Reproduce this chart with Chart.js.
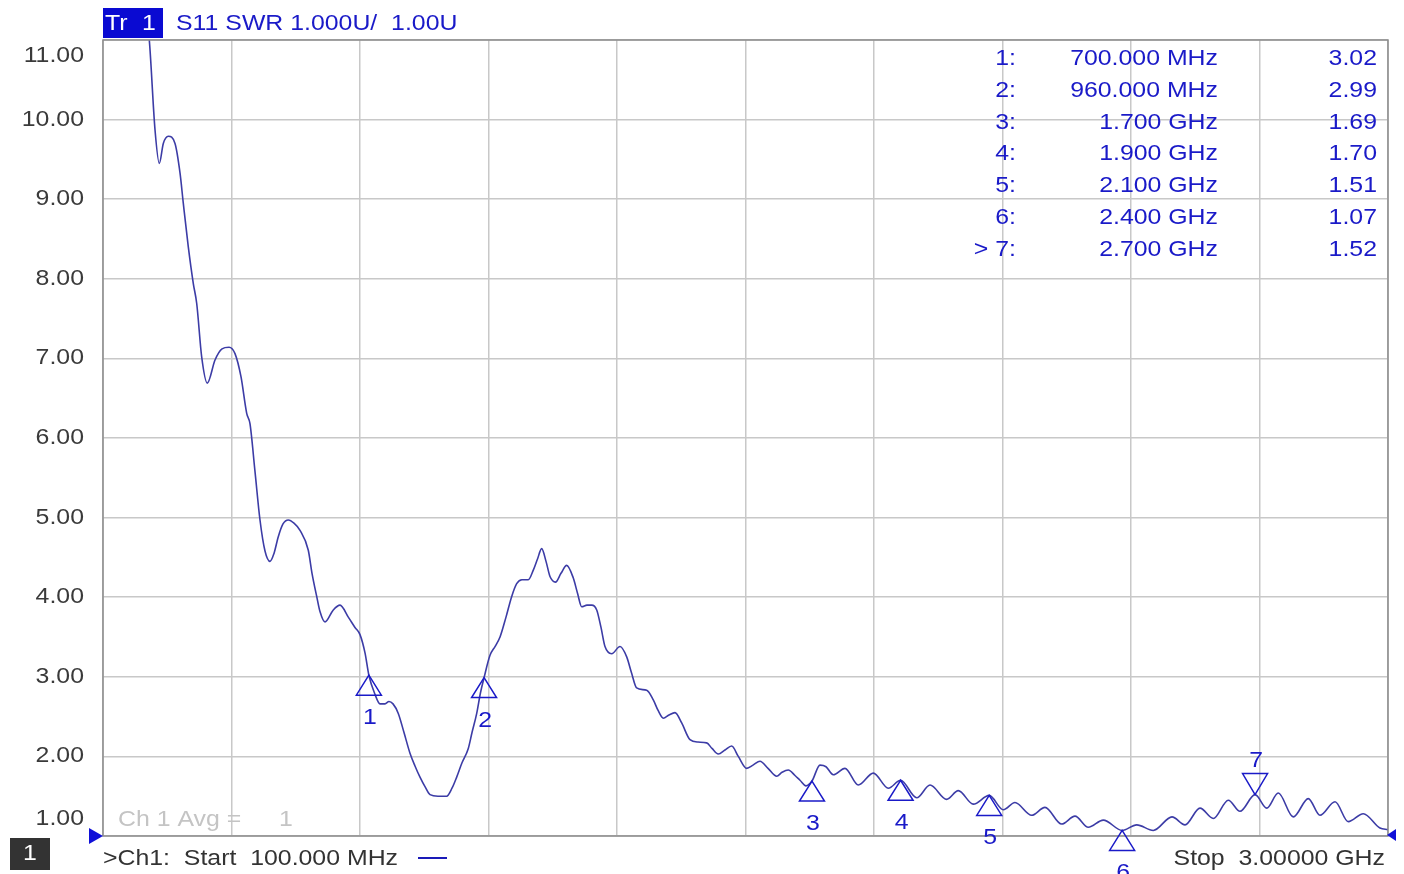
<!DOCTYPE html>
<html lang="en">
<head>
    <meta charset="UTF-8">
    <title>S11 SWR</title>
    <script src="https://cdn.jsdelivr.net/npm/chart.js"></script>
    <style>
        body { margin: 0; padding: 0; background: #fff; }
        canvas { display: block; }
    </style>
</head>
<body>
    <canvas id="swrChart" width="1404" height="874"></canvas>

    <script>
        const freqMHz = [100, 204.5, 217.4, 227.1, 236.1, 247.4, 262.5, 273.8, 281.2, 292.5,
            303.8, 311.5, 322.7, 335.4, 352.8, 368.6, 384.4, 397.9, 411.4, 424.3,
            431.7, 443, 454.3, 465.6, 476.9, 485.9, 495.6, 506.2, 518.2, 531,
            544.6, 563.3, 571.7, 582.3, 589.7, 601, 619.7, 634.9, 653.6, 668.7,
            680, 691.3, 700, 713.8, 725.1, 736.4, 745.4, 754.5, 766.4, 779.3,
            792.8, 804.1, 815.4, 826.7, 838, 856, 875.7, 887.6, 898.2, 910.2,
            924.4, 932.8, 943.4, 951.9, 960, 973.4, 984.7, 996, 1009.5, 1022.4,
            1033.6, 1045.6, 1059.8, 1071.1, 1080.6, 1090, 1099.8, 1108.8, 1121.2, 1133.6,
            1146.5, 1161.4, 1170.9, 1180.3, 1192.3, 1202.9, 1214.2, 1223.9, 1232.9, 1248,
            1266.8, 1281.9, 1292.7, 1304.4, 1327, 1341.9, 1352.5, 1364.5, 1377.3, 1390.9,
            1406, 1424.7, 1442.8, 1462.4, 1474.4, 1488.6, 1503.7, 1518.8, 1533.7, 1552.7,
            1566.9, 1582.7, 1600.8, 1620.4, 1632.4, 1646.6, 1661.7, 1673, 1686.5, 1700,
            1718.1, 1731.7, 1748.1, 1774.5, 1804.6, 1838.4, 1872.3, 1900, 1936.4, 1966.4,
            2004, 2030.2, 2064.1, 2100, 2131.8, 2158.2, 2195.9, 2225.9, 2263.6, 2293.6,
            2323.6, 2357.5, 2400, 2432.9, 2470.3, 2512.5, 2541.9, 2575.7, 2605.7, 2639.6,
            2666, 2700, 2726.3, 2752.4, 2786.3, 2820.1, 2846.5, 2880.4, 2910.4, 2944.2,
            2981.9, 3000];

        const swr = [16, 11.0, 9.87, 9.45, 9.70, 9.79, 9.70, 9.33, 8.95, 8.40,
            7.94, 7.69, 7.02, 6.69, 6.98, 7.12, 7.14, 7.06, 6.77, 6.31,
            6.18, 5.58, 4.97, 4.58, 4.45, 4.55, 4.76, 4.92, 4.97, 4.93,
            4.84, 4.59, 4.30, 4.01, 3.82, 3.69, 3.84, 3.90, 3.75, 3.62,
            3.53, 3.30, 3.02, 2.78, 2.66, 2.66, 2.69, 2.66, 2.54, 2.30,
            2.04, 1.88, 1.74, 1.62, 1.52, 1.50, 1.50, 1.60, 1.74, 1.92,
            2.10, 2.30, 2.54, 2.80, 2.99, 3.27, 3.38, 3.50, 3.75, 4.01,
            4.17, 4.22, 4.22, 4.34, 4.48, 4.61, 4.45, 4.26, 4.19, 4.30,
            4.40, 4.24, 4.05, 3.88, 3.90, 3.90, 3.84, 3.62, 3.38, 3.29,
            3.38, 3.25, 3.05, 2.86, 2.83, 2.71, 2.58, 2.48, 2.52, 2.55,
            2.42, 2.21, 2.18, 2.17, 2.10, 2.03, 2.08, 2.13, 2.00, 1.85,
            1.89, 1.94, 1.85, 1.75, 1.80, 1.83, 1.76, 1.70, 1.63, 1.69,
            1.89, 1.87, 1.77, 1.85, 1.64, 1.79, 1.60, 1.70, 1.48, 1.64,
            1.46, 1.57, 1.40, 1.51, 1.33, 1.42, 1.26, 1.36, 1.15, 1.25,
            1.11, 1.20, 1.07, 1.14, 1.07, 1.24, 1.14, 1.35, 1.22, 1.45,
            1.31, 1.52, 1.35, 1.54, 1.24, 1.47, 1.26, 1.43, 1.18, 1.28,
            1.10, 1.08];

        // Markers
        const markerFreq = [700, 960, 1700, 1900, 2100, 2400, 2700];
        const markerSwr = [3.02, 2.99, 1.69, 1.70, 1.51, 1.07, 1.52];
        const activeMarker = 7;

        // Axis ticks
        const xTicks = [100, 390, 680, 970, 1260, 1550, 1840, 2130, 2420, 2710, 3000];
        const yTicks = [1, 2, 3, 4, 5, 6, 7, 8, 9, 10, 11];

        const FONT = '22px "Liberation Sans", Arial, sans-serif';
        const BLUE = '#1a1ac8';
        const STRETCH = 1.13; // analyser font is a bit wider than Arial

        // text with the analyser's horizontal stretch
        function text(ctx, str, x, y, align) {
            ctx.save();
            ctx.translate(x, y);
            ctx.scale(STRETCH, 1);
            ctx.textAlign = align || 'left';
            ctx.textBaseline = 'middle';
            ctx.fillText(str, 0, 0);
            ctx.restore();
        }

        function freqText(f) {
            return f < 1000 ? f.toFixed(3) + ' MHz' : (f / 1000).toFixed(3) + ' GHz';
        }

        const vnaDecor = {
            id: 'vnaDecor',
            beforeDraw(chart) {
                const ctx = chart.ctx;
                ctx.save();
                ctx.fillStyle = '#fff';
                ctx.fillRect(0, 0, chart.width, chart.height);
                ctx.restore();
            },
            afterDraw(chart) {
                const ctx = chart.ctx;
                const a = chart.chartArea;
                const xs = chart.scales.x;
                const ys = chart.scales.y;
                ctx.save();
                ctx.font = FONT;

                // plot frame
                ctx.strokeStyle = '#8c8c8c';
                ctx.lineWidth = 1.5;
                ctx.strokeRect(a.left, a.top, a.right - a.left, a.bottom - a.top);

                // y labels
                ctx.fillStyle = '#3a3a3a';
                yTicks.forEach(v => {
                    let y = ys.getPixelForValue(v);
                    y = Math.min(Math.max(y, a.top + 16), a.bottom - 17);
                    text(ctx, v.toFixed(2), 84, y, 'right');
                });

                // header
                ctx.fillStyle = '#0a0ad2';
                ctx.fillRect(103, 8, 60, 30);
                ctx.fillStyle = '#fff';
                text(ctx, 'Tr', 105, 24);
                text(ctx, '1', 142, 24);
                ctx.fillStyle = BLUE;
                text(ctx, 'S11 SWR 1.000U/  1.00U', 176, 24);

                // averaging note
                ctx.fillStyle = '#c4c4c4';
                text(ctx, 'Ch 1 Avg =', 118, 820);
                text(ctx, '1', 279, 820);

                // marker table
                ctx.fillStyle = BLUE;
                markerFreq.forEach((f, i) => {
                    const y = 59 + i * 31.8;
                    const n = i + 1;
                    text(ctx, (n === activeMarker ? '> ' : '') + n + ':', 1016, y, 'right');
                    text(ctx, freqText(f), 1218, y, 'right');
                    text(ctx, markerSwr[i].toFixed(2), 1377, y, 'right');
                });

                // marker triangles
                ctx.strokeStyle = BLUE;
                ctx.lineWidth = 1.5;
                markerFreq.forEach((f, i) => {
                    const x = xs.getPixelForValue(f);
                    const y = ys.getPixelForValue(markerSwr[i]);
                    const n = i + 1;
                    ctx.beginPath();
                    if (n === activeMarker) {
                        ctx.moveTo(x, y);
                        ctx.lineTo(x - 12.5, y - 21);
                        ctx.lineTo(x + 12.5, y - 21);
                    } else {
                        ctx.moveTo(x, y);
                        ctx.lineTo(x - 12.5, y + 20);
                        ctx.lineTo(x + 12.5, y + 20);
                    }
                    ctx.closePath();
                    ctx.stroke();
                    text(ctx, String(n), x + 1, n === activeMarker ? y - 34 : y + 43, 'center');
                });

                // reference arrows
                ctx.fillStyle = '#1010d8';
                ctx.beginPath();
                ctx.moveTo(89, 828);
                ctx.lineTo(103, 836);
                ctx.lineTo(89, 844);
                ctx.closePath();
                ctx.fill();
                ctx.beginPath();
                ctx.moveTo(1387, 835);
                ctx.lineTo(1396, 829);
                ctx.lineTo(1396, 841);
                ctx.closePath();
                ctx.fill();

                // footer
                ctx.fillStyle = '#333';
                ctx.fillRect(10, 838, 40, 32);
                ctx.fillStyle = '#fff';
                text(ctx, '1', 30, 854, 'center');
                ctx.fillStyle = '#333';
                text(ctx, '>Ch1:  Start  100.000 MHz', 103, 859);
                text(ctx, 'Stop  3.00000 GHz', 1385, 859, 'right');
                ctx.strokeStyle = '#1a1ab8';
                ctx.lineWidth = 2;
                ctx.beginPath();
                ctx.moveTo(418, 858);
                ctx.lineTo(447, 858);
                ctx.stroke();

                ctx.restore();
            }
        };

        const ctx = document.getElementById('swrChart').getContext('2d');
        const swrChart = new Chart(ctx, {
            type: 'line',
            data: {
                datasets: [{
                    label: 'S11 SWR',
                    data: freqMHz.map((f, i) => ({ x: f, y: swr[i] })),
                    borderColor: '#3c3ca6',
                    borderWidth: 1.6,
                    pointRadius: 0,
                    fill: false,
                    cubicInterpolationMode: 'monotone'
                }]
            },
            options: {
                responsive: false,
                animation: false,
                layout: { padding: { left: 103, top: 40, right: 16, bottom: 38 } },
                plugins: {
                    legend: { display: false },
                    tooltip: { enabled: false }
                },
                scales: {
                    x: {
                        type: 'linear',
                        min: 100,
                        max: 3000,
                        afterBuildTicks: s => { s.ticks = xTicks.map(v => ({ value: v })); },
                        afterFit: s => { s.height = 0; },
                        ticks: { display: false },
                        border: { display: false },
                        grid: { color: '#c8c8c8', lineWidth: 1.5, drawTicks: false }
                    },
                    y: {
                        min: 1,
                        max: 11,
                        afterBuildTicks: s => { s.ticks = yTicks.map(v => ({ value: v })); },
                        afterFit: s => { s.width = 0; },
                        ticks: { display: false },
                        border: { display: false },
                        grid: { color: '#c8c8c8', lineWidth: 1.5, drawTicks: false }
                    }
                }
            },
            plugins: [vnaDecor]
        });
    </script>
</body>
</html>
